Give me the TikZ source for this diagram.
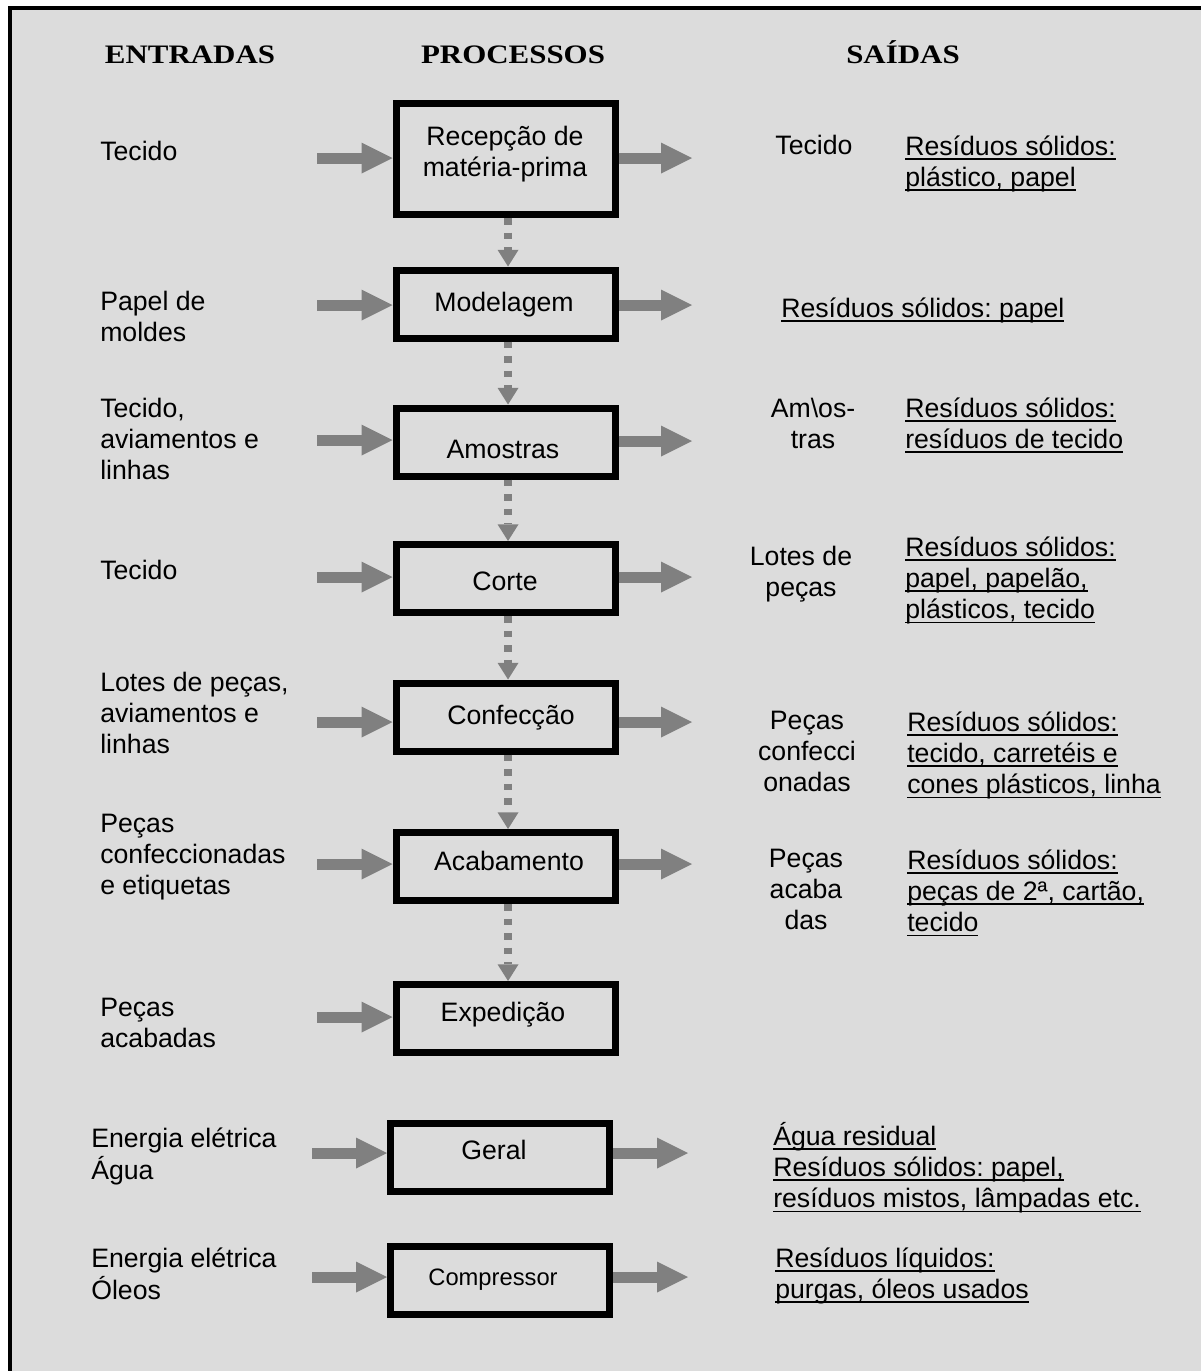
\documentclass[tikz,border=0pt]{standalone}
\usepackage{fontspec}
\setmainfont{Liberation Sans}
\newfontfamily\headfont{Liberation Serif}
\usetikzlibrary{arrows.meta}
\definecolor{bgray}{HTML}{DCDCDC}
\definecolor{agray}{HTML}{808080}
\frenchspacing
\newcommand\uln[1]{\setbox0\hbox{#1}\rlap{\rule[-3.4pt]{\wd0}{1.4pt}}\box0}
\newcommand\mlines[2][l]{\begin{tabular}[t]{@{}#1@{}}#2\end{tabular}}
\tikzset{
  txt/.style={font=\fontsize{20pt}{23.6pt}\selectfont, inner sep=0pt, anchor=base west},
  ctxt/.style={txt, anchor=base},
  head/.style={font=\headfont\bfseries\fontsize{20pt}{24pt}\selectfont, inner sep=0pt, anchor=base},
  box/.style={draw=black, line width=5.25pt, minimum width=164.25pt, minimum height=51pt, inner sep=0pt},
  harrow/.style={draw=agray, line width=8.25pt, -{Triangle[width=23.25pt,length=23.25pt,line width=0pt]}},
  varrow/.style={draw=agray, line width=6pt, dash pattern=on 5pt off 5.9pt, -{Triangle[width=15.75pt,length=12.5pt,line width=0pt]}}
}
\begin{document}
\frenchspacing
\begin{tikzpicture}[x=0.75pt,y=-0.75pt]
\useasboundingbox (0,0) rectangle (1201,1371);
\fill[white] (0,0) rectangle (1201,1371);
\fill[bgray] (8,6) rectangle (1201,1371);
\fill[black] (8,6) rectangle (1201,9.5);
\fill[black] (8,6) rectangle (11.5,1371);

% headers
\node[head] (hE) at (190,63) {\scalebox{1.16}[1]{ENTRADAS}};
\node[head] (hP) at (513,63) {\scalebox{1.16}[1]{PROCESSOS}};
\node[head] (hS) at (903,63) {\scalebox{1.16}[1]{SAÍDAS}};

% process boxes
\node[box, minimum height=83.25pt] (b1) at (505.5,159) {};
\node[box] (b2) at (505.5,304) {};
\node[box] (b3) at (505.5,442) {};
\node[box] (b4) at (505.5,578.5) {};
\node[box] (b5) at (505.5,717) {};
\node[box] (b6) at (505.5,866.5) {};
\node[box] (b7) at (505.5,1018.5) {};
\node[box] (b8) at (500,1157) {};
\node[box] (b9) at (500,1280.5) {};

% box texts
\node[ctxt] (t1) at (505,145) {\mlines[c]{Recepção de\\matéria-prima}};
\node[ctxt] (t2) at (504,311) {Modelagem};
\node[ctxt] (t3) at (503,458) {Amostras};
\node[ctxt] (t4) at (505,590) {Corte};
\node[ctxt] (t5) at (511,724) {Confecção};
\node[ctxt] (t6) at (509,870) {Acabamento};
\node[ctxt] (t7) at (503,1021) {Expedição};
\node[ctxt] (t8) at (494,1159) {Geral};
\node[ctxt, font=\fontsize{17.8pt}{21pt}\selectfont] (t9) at (493,1285) {Compressor};

% inputs
\node[txt] (e1) at (100,160) {Tecido};
\node[txt] (e2) at (100,310) {\mlines{Papel de\\moldes}};
\node[txt] (e3) at (100,417) {\mlines{Tecido,\\aviamentos e\\linhas}};
\node[txt] (e4) at (100,579) {Tecido};
\node[txt] (e5) at (100,691) {\mlines{Lotes de peças,\\aviamentos e\\linhas}};
\node[txt] (e6) at (100,832) {\mlines{Peças\\confeccionadas\\e etiquetas}};
\node[txt] (e7) at (100,1016) {\mlines{Peças\\acabadas}};
\node[txt] (e8) at (91,1147) {\mlines{Energia elétrica\\Água}};
\node[txt] (e9) at (91,1267) {\mlines{Energia elétrica\\Óleos}};

% products
\node[ctxt] (p1) at (814,154) {Tecido};
\node[ctxt] (p3) at (813,417) {\mlines[c]{Am\textbackslash os-\\tras}};
\node[ctxt] (p4) at (801,565) {\mlines[c]{Lotes de\\peças}};
\node[ctxt] (p5) at (807,729) {\mlines[c]{Peças\\confecci\\onadas}};
\node[ctxt] (p6) at (806,867) {\mlines[c]{Peças\\acaba\\das}};

% wastes
\node[txt] (r1) at (905,155) {\mlines{\uln{Resíduos sólidos:}\\\uln{plástico, papel}}};
\node[txt] (r2) at (781,317) {\uln{Resíduos sólidos: papel}};
\node[txt] (r3) at (905,417) {\mlines{\uln{Resíduos sólidos:}\\\uln{resíduos de tecido}}};
\node[txt] (r4) at (905,556) {\mlines{\uln{Resíduos sólidos:}\\\uln{papel, papelão,}\\\uln{plásticos, tecido}}};
\node[txt] (r5) at (907,731) {\mlines{\uln{Resíduos sólidos:}\\\uln{tecido, carretéis e}\\\uln{cones plásticos, linha}}};
\node[txt] (r6) at (907,869) {\mlines{\uln{Resíduos sólidos:}\\\uln{peças de 2ª, cartão,}\\\uln{tecido}}};
\node[txt] (r8) at (773,1145) {\mlines{\uln{Água residual}\\\uln{Resíduos sólidos: papel,}\\\uln{resíduos mistos, lâmpadas etc.}}};
\node[txt] (r9) at (775,1267) {\mlines{\uln{Resíduos líquidos:}\\\uln{purgas, óleos usados}}};

% input arrows
\coordinate (i1) at (317,158);
\coordinate (i2) at (317,305);
\coordinate (i3) at (317,440);
\coordinate (i4) at (317,577);
\coordinate (i5) at (317,722);
\coordinate (i6) at (317,864);
\coordinate (i7) at (317,1017);
\coordinate (i8) at (312,1153);
\coordinate (i9) at (312,1277);
\foreach \k in {1,...,9}{\draw[harrow] (i\k) -- (i\k -| b\k.west);}

% output arrows
\coordinate (o1) at (692,158);
\coordinate (o2) at (692,305);
\coordinate (o3) at (692,441);
\coordinate (o4) at (692,577);
\coordinate (o5) at (692,722);
\coordinate (o6) at (692,864);
\coordinate (o8) at (688,1153);
\coordinate (o9) at (688,1277);
\foreach \k in {1,2,3,4,5,6,8,9}{\draw[harrow] (o\k -| b\k.east) -- (o\k);}

% flow arrows
\foreach \a/\b in {1/2,2/3,3/4,4/5,5/6,6/7}{
  \draw[varrow] ([xshift=1.9pt]b\a.south) -- ([xshift=1.9pt]b\b.north);}
\end{tikzpicture}
\end{document}
